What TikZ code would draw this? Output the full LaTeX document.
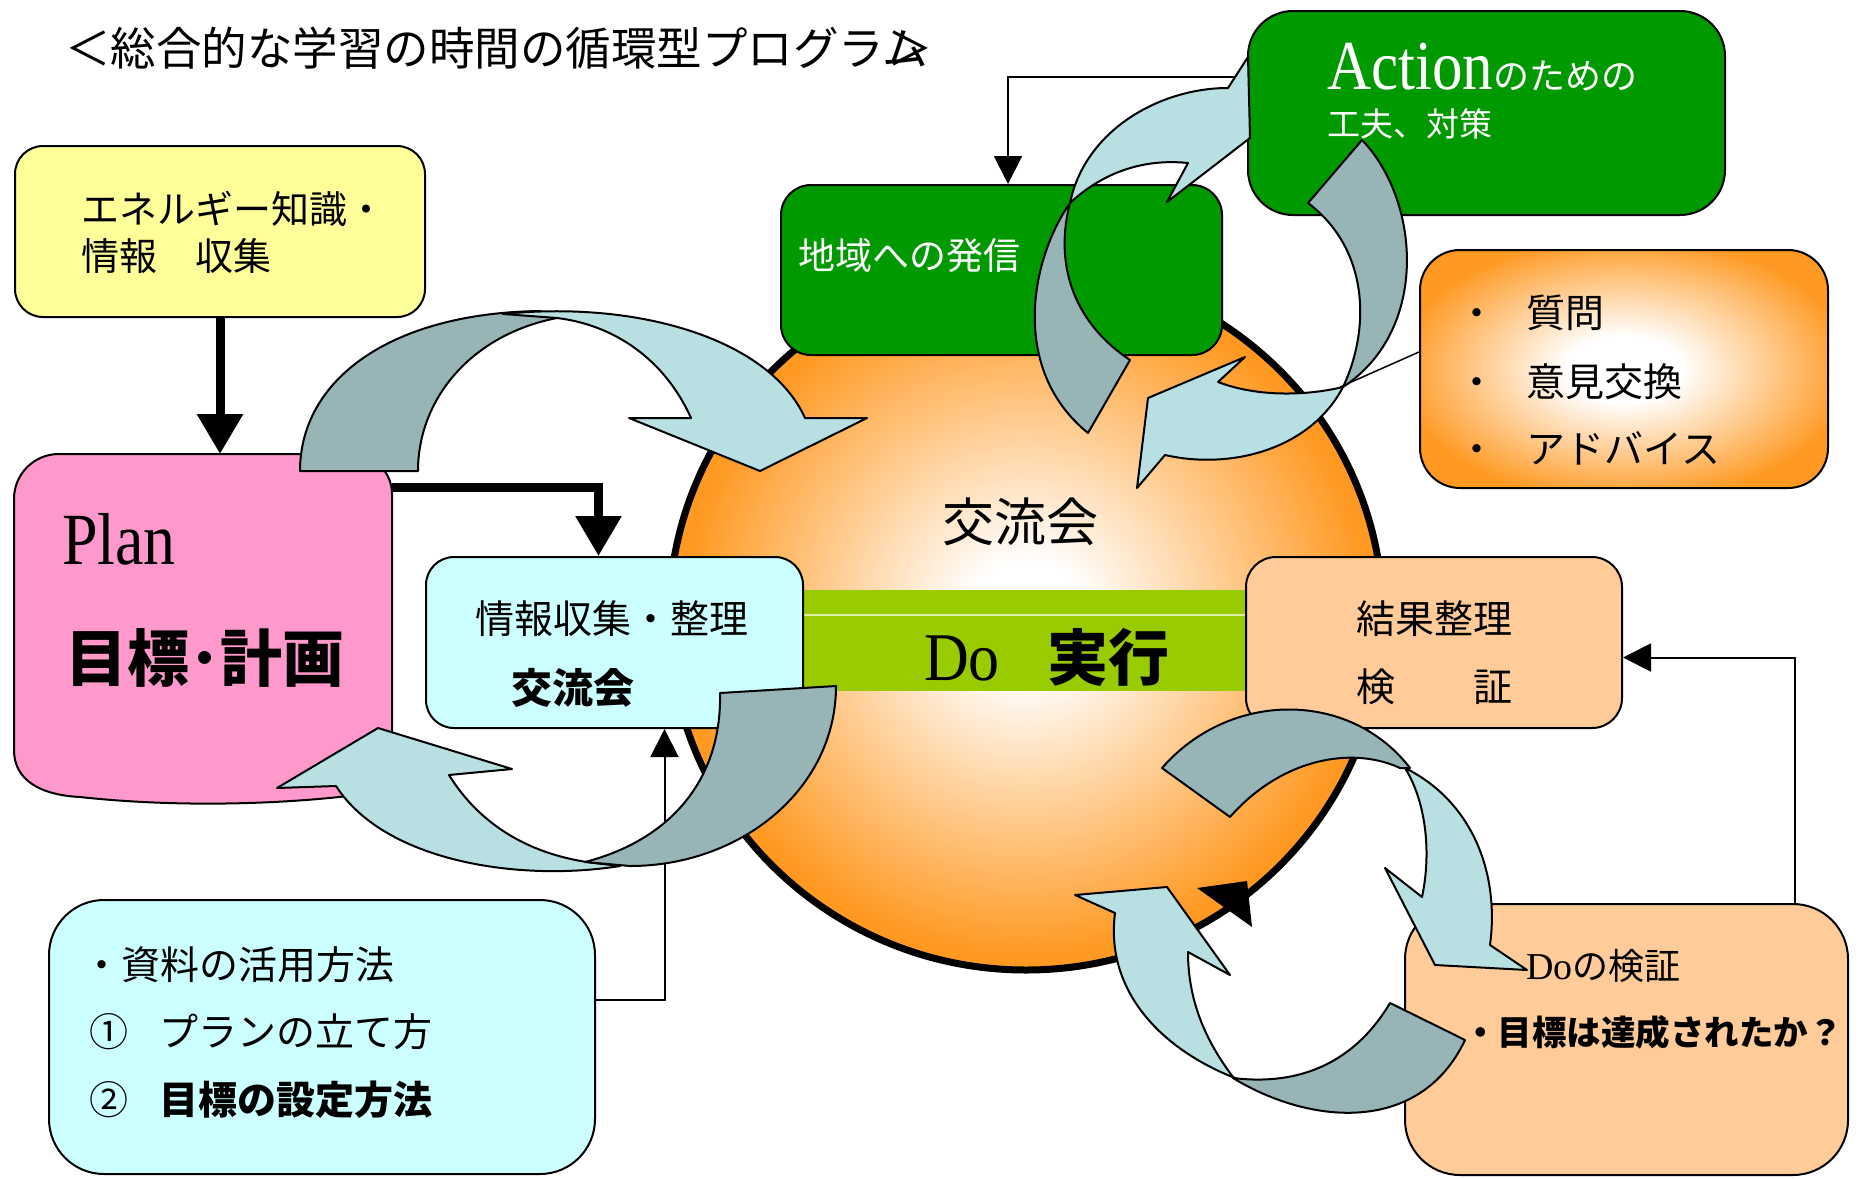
\documentclass[tikz,border=0pt]{standalone}
\usepackage{fontspec}
\usepackage{graphicx}
\setmainfont{Liberation Serif}
\newfontfamily\jp{Noto Sans CJK JP}
\usetikzlibrary{arrows.meta,shapes.geometric,calc}
\definecolor{yellowc}{HTML}{FFFF99}
\definecolor{pinkc}{HTML}{FF99CC}
\definecolor{cyanc}{HTML}{CCFFFF}
\definecolor{greenc}{HTML}{009900}
\definecolor{peachc}{HTML}{FFCC99}
\definecolor{limec}{HTML}{99CC00}
\definecolor{orangec}{HTML}{FF9922}
\definecolor{lightarr}{HTML}{B8DFE2}
\definecolor{darkarr}{HTML}{97B4B6}
\pgfdeclareradialshading{orb}{\pgfpoint{0bp}{0bp}}{color(0bp)=(white); color(4bp)=(white); color(14bp)=(orangec!50!white); color(24bp)=(orangec); color(50bp)=(orangec)}
\pgfdeclareradialshading{boxorb}{\pgfpoint{0bp}{0bp}}{color(0bp)=(white); color(7bp)=(white); color(28bp)=(orangec); color(50bp)=(orangec)}
\newcommand\sz[1]{\fontsize{#1}{#1}\selectfont}
\begin{document}
\begin{tikzpicture}[x=1pt,y=-1pt,
  box/.style={draw, line width=2pt, rounded corners=#1, anchor=north west, inner sep=0pt},
  box/.default=30pt,
  txt/.style={anchor=base west, inner sep=0pt, font=\jp},
  thickarr/.style={line width=9pt, -{Triangle[width=44pt,length=40pt]}},
  thinarr/.style={line width=2pt, -{Triangle[width=28pt,length=28pt]}},
  larr/.style={fill=lightarr, draw=black, line width=2pt, line join=round},
  darr/.style={fill=darkarr, draw=black, line width=2pt, line join=round}]
\useasboundingbox (0,0) rectangle (1863,1178);
\fill[white] (0,0) rectangle (1863,1178);

% big circle
\node[ellipse, draw, line width=7pt, shade, shading=orb, minimum width=714pt, minimum height=704pt, inner sep=0pt] (kouryu) at (1026,618) {};
% Do bar
\node[fill=limec, minimum width=443pt, minimum height=101pt, anchor=north west, inner sep=0pt] (dobar) at (802,590) {};
\draw[white!65!limec, line width=1.5pt] ($(dobar.north west)+(0,25)$) -- ($(dobar.north east)+(0,25)$);
% arrowhead on circle
\fill (1197,888) -- (1247,881) -- (1252,927) -- cycle;

% boxes
\node[box=28pt, fill=yellowc, minimum width=410pt, minimum height=171pt] (energy) at (14,145) {};
\draw[line width=2pt, fill=pinkc] (392,790) -- (392,494) .. controls (392,472) and (374,454) .. (352,454) -- (59,454) .. controls (34,454) and (14,474) .. (14,499) -- (14,750) .. controls (14,780) and (40,795) .. (80,797) .. controls (180,808) and (300,805) .. (392,790) -- cycle;
\node[inner sep=0pt, minimum width=378pt, minimum height=341pt, anchor=north west] (plan) at (14,454) {};
\node[box=28pt, fill=cyanc, minimum width=377pt, minimum height=171pt] (info) at (425,556) {};
\node[box=30pt, fill=greenc, minimum width=441pt, minimum height=170pt] (hassin) at (780,184) {};
\node[box=45pt, fill=greenc, minimum width=477pt, minimum height=204pt] (action) at (1247,10) {};
\node[box=40pt, shade, shading=boxorb, minimum width=408pt, minimum height=238pt] (iken) at (1419,249) {};
\node[box=30pt, fill=peachc, minimum width=376pt, minimum height=171pt] (kekka) at (1245,556) {};
\node[box=55pt, fill=peachc, minimum width=443pt, minimum height=271pt] (kensho) at (1404,903) {};
\node[box=55pt, fill=cyanc, minimum width=546pt, minimum height=274pt] (shiryo) at (48,899) {};

% connectors
\draw[thickarr] (energy.south) -- (energy.south |- plan.north);
\draw[thickarr] ($(plan.north east)+(0,33)$) -| ($(info.north)+(-16,0)$);
\draw[thinarr] ($(action.north west)+(0,67)$) -| ($(hassin.north)+(6.5,0)$);
\draw[thinarr] ($(shiryo.north east)+(0,101)$) -| ($(info.south)+(50,0)$);
\draw[thinarr] ($(kensho.north east)+(-54,0)$) |- ($(kekka.east)+(0,15)$);
\coordinate (callpt) at (1340,387);
\draw[line width=1.5pt] ($(iken.north west)+(0,103)$) -- (callpt);

% curved arrow (a) top-left
\draw[darr] (300,471) .. controls (300,380) and (390,313) .. (540,311) -- (557,318) .. controls (470,335) and (418,400) .. (418,471) -- cycle;
\draw[larr] (503,314) .. controls (640,300) and (770,340) .. (805,418) -- (867,418) -- (760,471) -- (629,418) -- (691,418) .. controls (665,360) and (615,325) .. (557,318) -- cycle;

% curved arrow (b) bottom-left
\draw[larr] (336,786) -- (277,788) -- (378,728) -- (512,769) -- (449,775) .. controls (480,825) and (530,855) .. (594,863) -- (620,866) .. controls (520,882) and (385,862) .. (336,786) -- cycle;
\draw[darr] (720,693) -- (836,686) .. controls (836,790) and (740,866) .. (630,866) -- (585,862) .. controls (670,840) and (722,780) .. (720,693) -- cycle;

% top-right circular arrows
\draw[darr] (1070,203) .. controls (1030,260) and (1010,370) .. (1088,433) -- (1130,360) .. controls (1070,320) and (1055,260) .. (1070,203) -- cycle;
\draw[larr] (1070,203) .. controls (1085,130) and (1160,88) .. (1228,88) -- (1248,57) -- (1250,138) -- (1167,202) -- (1188,163) .. controls (1140,158) and (1100,175) .. (1070,203) -- cycle;
\draw[darr] (1308,203) -- (1362,140) .. controls (1420,200) and (1430,330) .. (1343,387) .. controls (1370,330) and (1370,250) .. (1308,203) -- cycle;
\draw[larr] (1343,387) .. controls (1310,450) and (1230,470) .. (1165,455) -- (1137,488) -- (1148,398) -- (1245,357) -- (1218,382) .. controls (1260,398) and (1310,395) .. (1343,387) -- cycle;

% bottom-right circular arrows
\draw[darr] (1162,768) .. controls (1230,690) and (1350,690) .. (1410,768) -- (1400,768) .. controls (1350,745) and (1280,760) .. (1230,817) -- cycle;
\draw[larr] (1405,768) .. controls (1470,800) and (1500,870) .. (1490,945) -- (1527,970) -- (1435,965) -- (1385,868) -- (1422,897) .. controls (1432,850) and (1425,800) .. (1405,768) -- cycle;
\draw[larr] (1115,913) -- (1075,895) -- (1167,887) -- (1230,975) -- (1188,952) .. controls (1188,1000) and (1205,1040) .. (1233,1077) -- (1240,1080) .. controls (1160,1050) and (1105,990) .. (1115,913) -- cycle;
\draw[darr] (1233,1078) .. controls (1310,1125) and (1420,1135) .. (1465,1040) -- (1390,1003) .. controls (1350,1070) and (1290,1085) .. (1233,1078) -- cycle;

% texts
\node[txt] (title) at (65,65) {\sz{45.5}＜総合的な学習の時間の循環型プログラム\kern-0.9em＞};
\node[txt] (en1) at (81,223) {\sz{38}エネルギー知識・};
\node[txt] (en2) at (81,270) {\sz{38}情報　収集};
\node[anchor=base west, inner sep=0pt] (plantxt) at (62,564) {\sz{64}\scalebox{1}[1.15]{Plan}};
\node[txt] (goal) at (65,681) {\sz{62}\bfseries 目標･計画};
\node[txt] (info1) at (475,633) {\sz{39}情報収集・整理};
\node[txt] (info2) at (511,703) {\sz{41}\bfseries 交流会};
\node[txt] (kouryutxt) at (942,541) {\sz{52}交流会};
\node[anchor=base west, inner sep=0pt] (dotxt) at (924,680) {\sz{62}\scalebox{1}[1.1]{Do}};
\node[txt] (jikko) at (1047,680) {\sz{61}\bfseries 実行};
\node[txt, text=white] (hassintxt) at (798,269) {\sz{37}地域への発信};
\node[txt, text=white] (act1) at (1327,89) {\rmfamily\sz{61}\scalebox{1}[1.15]{Action}\jp\sz{36}のための};
\node[txt, text=white] (act2) at (1327,136) {\sz{33}工夫、対策};
\node[txt] (q1) at (1457,327) {\sz{39}\makebox[69pt][l]{・}質問};
\node[txt] (q2) at (1457,396) {\sz{39}\makebox[69pt][l]{・}意見交換};
\node[txt] (q3) at (1457,463) {\sz{39}\makebox[69pt][l]{・}アドバイス};
\node[txt] (kekka1) at (1356,633) {\sz{39}結果整理};
\node[txt] (kekka2) at (1356,701) {\sz{39}検　　証};
\node[txt] (ken1) at (1526,979) {\rmfamily\sz{38}Do\jp\sz{36}の検証};
\node[txt] (ken2) at (1463,1045) {\sz{34.5}\bfseries ・目標は達成されたか？};
\node[txt] (sh1) at (82,979) {\sz{39}・資料の活用方法};
\node[txt] (sh2) at (89,1046) {\sz{39}①\hspace{0.8em}プランの立て方};
\node[txt] (sh3) at (89,1114) {\sz{39}②\hspace{0.8em}\bfseries 目標の設定方法};
\end{tikzpicture}
\end{document}
